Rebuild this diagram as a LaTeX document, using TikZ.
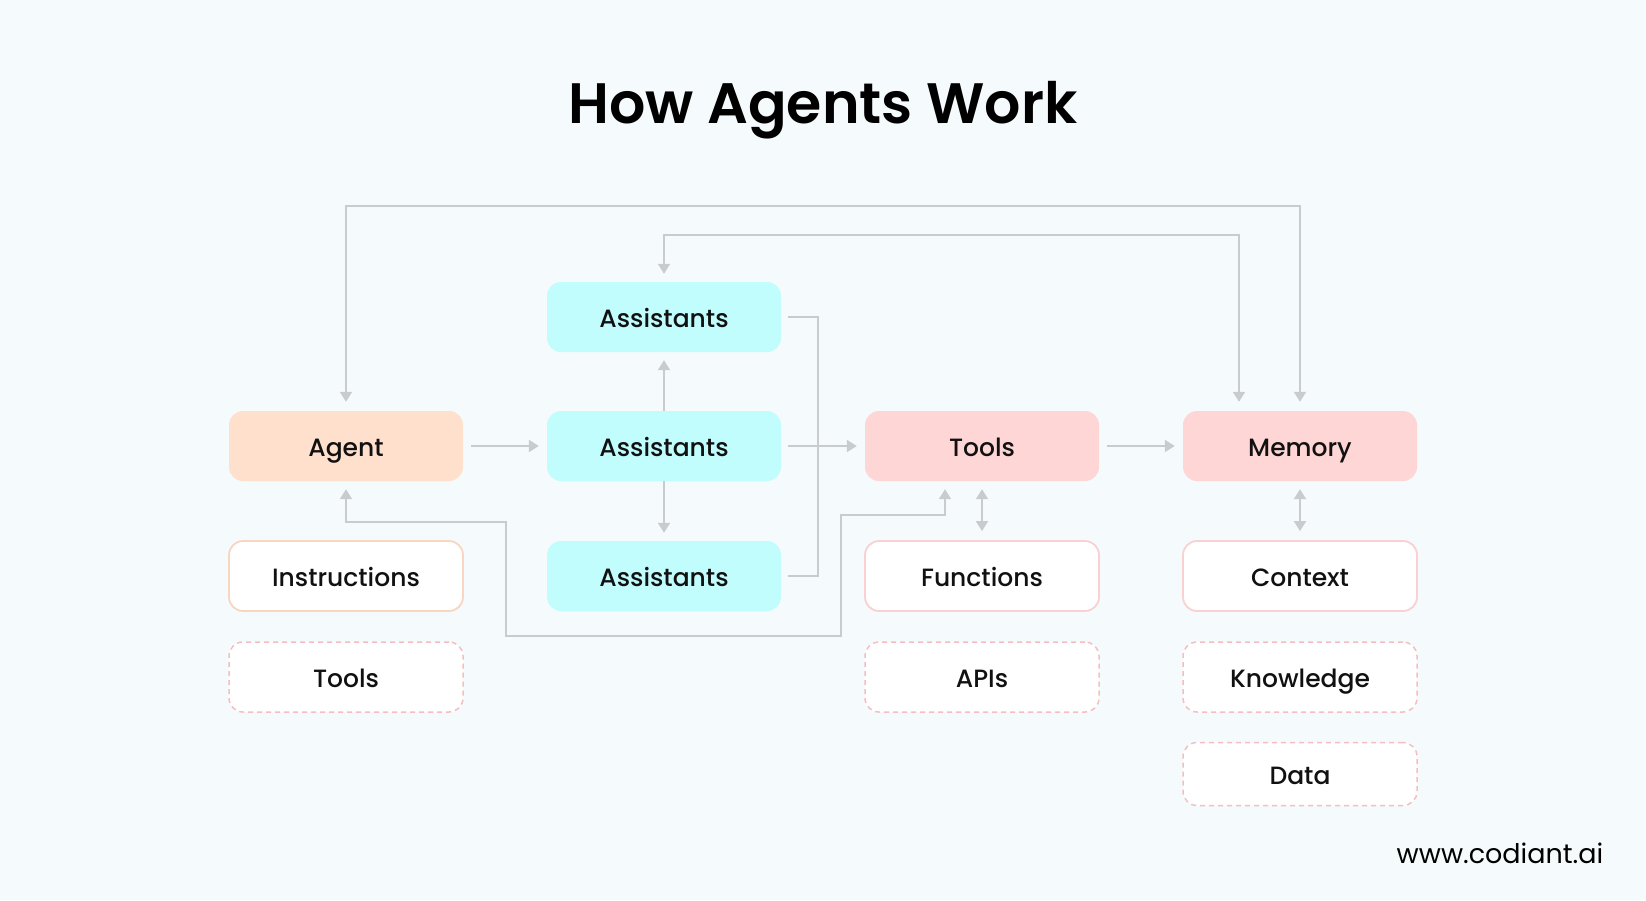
\documentclass[tikz,border=0pt]{standalone}
\usepackage{fontspec}
\setmainfont{Poppins}[BoldFont={* SemiBold}]
\newfontfamily\boxfont{Poppins Medium}
\usetikzlibrary{arrows.meta}
\definecolor{hwback}{RGB}{245,250,252}
\definecolor{hwpeach}{RGB}{255,224,204}
\definecolor{hwaqua}{RGB}{194,253,253}
\definecolor{hwpink}{RGB}{255,214,214}
\definecolor{hwpeachline}{RGB}{248,214,194}
\definecolor{hwpinkline}{RGB}{250,208,210}
\definecolor{hwdash}{RGB}{245,190,192}
\definecolor{hwgray}{RGB}{200,204,207}
\definecolor{hwtext}{RGB}{17,17,17}

\begin{document}
\begin{tikzpicture}[x=1pt,y=-1pt,
  box/.style={rounded corners=14pt,minimum width=234pt,minimum height=70pt,inner sep=0pt,
    text height=22pt,text depth=2pt,text=hwtext,font=\boxfont\fontsize{25}{30}\selectfont},
  agentbox/.style={box,fill=hwpeach},
  assbox/.style={box,fill=hwaqua},
  pinkbox/.style={box,fill=hwpink},
  solidbox/.style={box,fill=white,draw=#1,line width=1.8pt},
  dashbox/.style={box,fill=white,draw=hwdash,line width=1.5pt,dash pattern=on 5pt off 4pt},
  link/.style={draw=hwgray,line width=2pt},
  arr/.style={link,-{Triangle[length=10pt,width=12pt]}},
  twoarr/.style={link,{Triangle[length=10pt,width=12pt]}-{Triangle[length=10pt,width=12pt]}}]
\useasboundingbox (0,0) rectangle (1646,900);
\fill[hwback] (0,0) rectangle (1646,900); %background
\node[font=\bfseries\fontsize{57}{66}\selectfont,text=black] (title) at (823,110) {How Agents Work};

% first row
\node[agentbox] (agent) at (346,446) {Agent};
\node[assbox] (assmid) at (664,446) {Assistants};
\node[pinkbox] (tools) at (982,446) {Tools};
\node[pinkbox] (memory) at (1300,446) {Memory};
% assistants above and below
\node[assbox] (asstop) at (664,317) {Assistants};
\node[assbox] (assbot) at (664,576) {Assistants};
% parts
\node[solidbox=hwpeachline] (instr) at (346,576) {Instructions};
\node[dashbox] (agtools) at (346,677) {Tools};
\node[solidbox=hwpinkline] (funcs) at (982,576) {Functions};
\node[dashbox] (apis) at (982,677) {APIs};
\node[solidbox=hwpinkline] (context) at (1300,576) {Context};
\node[dashbox] (know) at (1300,677) {Knowledge};
\node[dashbox,minimum height=63pt] (data) at (1300,774) {Data};

\node[font=\fontsize{27}{30}\selectfont,text=black] (site) at (1500,853) {www.codiant.ai};

% main flow
\draw[arr,shorten <=8pt,shorten >=8pt] (agent) -- (assmid);
\draw[arr,shorten <=7pt,shorten >=8pt] (assmid) -- (tools);
\draw[arr,shorten <=8pt,shorten >=8pt] (tools) -- (memory);
\draw[arr,shorten >=8pt] (assmid) -- (asstop);
\draw[arr,shorten >=8pt] (assmid) -- (assbot);
\draw[link,shorten <=7pt,shorten >=7pt] (asstop.east) -- ++(37,0) |- (assbot.east); %bracket
% loops
\draw[twoarr,shorten <=9pt,shorten >=9pt] (agent.north) -- ++(0,-205) -| (memory.north);
\draw[twoarr,shorten <=9pt,shorten >=8pt] ([xshift=-61pt]memory.north) -- ++(0,-176) -| (asstop.north);
\draw[twoarr,shorten <=8pt,shorten >=8pt] (agent.south) -- ++(0,41) -| ++(160,114) -| ++(335,-121) -| ([xshift=-37pt]tools.south);
% parts
\draw[twoarr,shorten <=8pt,shorten >=9pt] (tools) -- (funcs);
\draw[twoarr,shorten <=8pt,shorten >=9pt] (memory) -- (context);
\end{tikzpicture}
\end{document}
